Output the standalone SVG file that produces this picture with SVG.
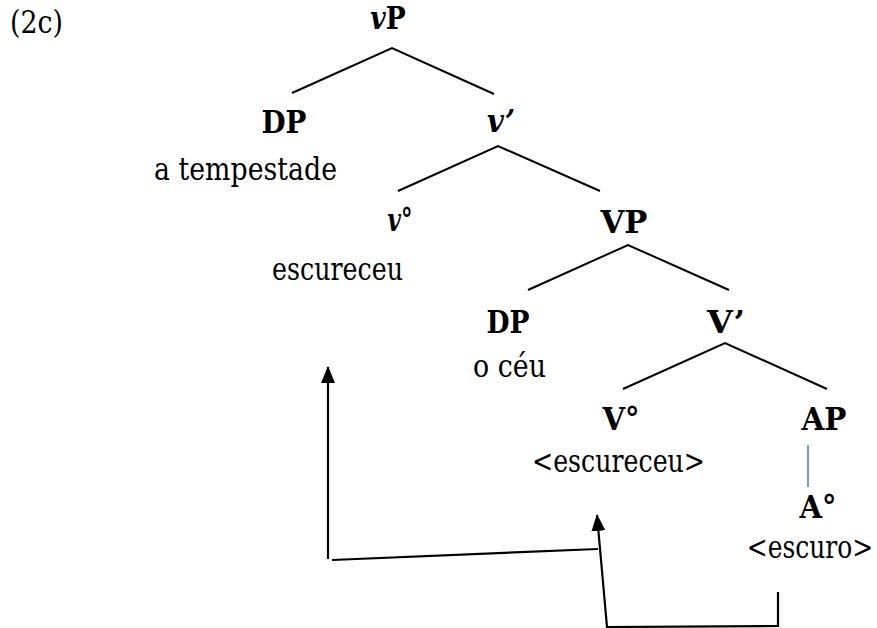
<svg xmlns="http://www.w3.org/2000/svg" width="877" height="628" viewBox="0 0 877 628">
  <style>
    text { font-family: "DejaVu Serif", "Liberation Serif", serif; font-size: 32px; fill: #000; }
    .lab { font-weight: bold; text-anchor: middle; }
    .it { font-style: italic; }
    .word { text-anchor: start; }
    .edge { fill: none; stroke: #000; stroke-width: 2; stroke-linejoin: miter; }
    .unary { stroke: #4f81bd; stroke-width: 1.6; }
    .move { fill: none; stroke: #000; stroke-width: 2.2; }
  </style>
  <defs>
    <marker id="head" markerUnits="userSpaceOnUse" markerWidth="17" markerHeight="14" refX="16" refY="7" orient="auto" viewBox="0 0 17 14">
      <path d="M0,0 L17,7 L0,14 Z" fill="#000"/>
    </marker>
  </defs>

  <rect width="877" height="628" fill="#fff"/>

  <text x="10" y="33" textLength="53" lengthAdjust="spacingAndGlyphs">(2c)</text>

  <g id="node-vP">
    <text class="lab" transform="translate(388,29) scale(0.83,1)"><tspan class="it">v</tspan>P</text>
  </g>
  <g id="node-DP1">
    <text class="lab" x="284" y="133" textLength="45" lengthAdjust="spacingAndGlyphs">DP</text>
    <text class="word" x="154" y="180" textLength="183" lengthAdjust="spacingAndGlyphs">a tempestade</text>
  </g>
  <g id="node-vbar"><text class="lab it" x="501" y="132" textLength="28" lengthAdjust="spacingAndGlyphs">v’</text></g>
  <g id="node-v0">
    <text class="lab" transform="translate(400,231) scale(0.72,1)"><tspan class="it">v</tspan>°</text>
    <text class="word" x="272" y="280" textLength="131" lengthAdjust="spacingAndGlyphs">escureceu</text>
  </g>
  <g id="node-VP"><text class="lab" x="624" y="233" textLength="47" lengthAdjust="spacingAndGlyphs">VP</text></g>
  <g id="node-DP2">
    <text class="lab" x="508" y="333" textLength="43" lengthAdjust="spacingAndGlyphs">DP</text>
    <text class="word" x="473" y="377" textLength="73" lengthAdjust="spacingAndGlyphs">o céu</text>
  </g>
  <g id="node-Vbar"><text class="lab" x="726" y="333" textLength="38" lengthAdjust="spacingAndGlyphs">V’</text></g>
  <g id="node-V0">
    <text class="lab" x="621" y="430" textLength="37" lengthAdjust="spacingAndGlyphs">V°</text>
    <text class="word" x="532" y="472" textLength="173" lengthAdjust="spacingAndGlyphs">&lt;escureceu&gt;</text>
  </g>
  <g id="node-AP"><text class="lab" x="824" y="430" textLength="45" lengthAdjust="spacingAndGlyphs">AP</text></g>
  <g id="node-A0">
    <text class="lab" x="818" y="518" textLength="37" lengthAdjust="spacingAndGlyphs">A°</text>
    <text text-anchor="middle" transform="translate(810,558) scale(0.78,1)">&lt;escuro&gt;</text>
  </g>

  <g id="connectors">
    <polyline class="edge" points="292,93 392,48 494,94"/>
    <polyline class="edge" points="398,191 498,146 600,191"/>
    <polyline class="edge" points="528,290 628,245 729,290"/>
    <polyline class="edge" points="623,389 725,343 827,389"/>
    <line class="edge unary" x1="808" y1="445" x2="808" y2="487"/>
    <!-- verb movement: V° up to v° -->
    <line class="move" x1="598" y1="549" x2="332" y2="560"/>
    <line class="move" x1="328" y1="559" x2="328" y2="367" marker-end="url(#head)"/>
    <!-- adjective movement: A° into V° -->
    <polyline class="move" points="778,592 778,626 607,627 597,515" marker-end="url(#head)"/>
  </g>
</svg>
